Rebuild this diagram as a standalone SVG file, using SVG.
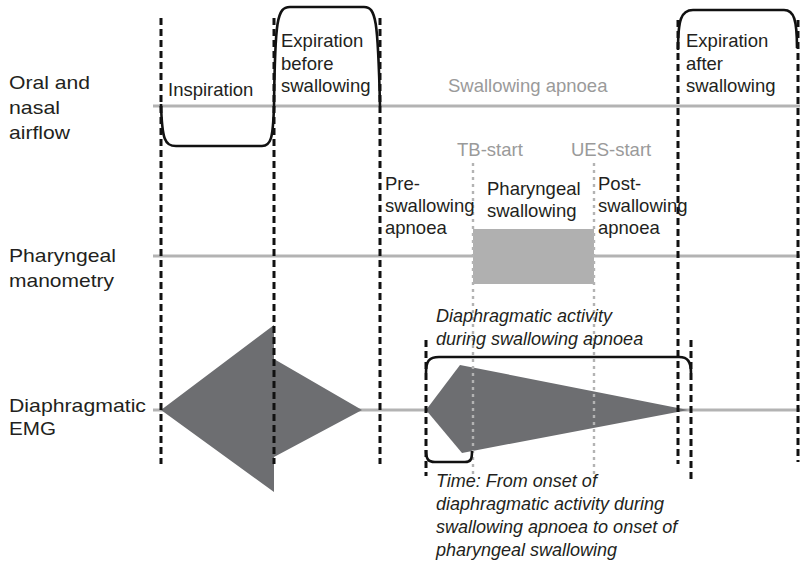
<svg xmlns="http://www.w3.org/2000/svg" width="800" height="563" viewBox="0 0 800 563">
  <style>
    .lbl { font-family: "Liberation Sans", Arial, Helvetica, sans-serif; font-size: 18.5px; fill: #231f20; }
    .row { font-family: "Liberation Sans", Arial, Helvetica, sans-serif; font-size: 19px; fill: #231f20; }
    .gry { font-family: "Liberation Sans", Arial, Helvetica, sans-serif; font-size: 18.5px; fill: #9a9a9a; }
    .ital { font-family: "Liberation Sans", Arial, Helvetica, sans-serif; font-size: 18px; font-style: italic; fill: #231f20; }
    .base { stroke: #b3b3b3; stroke-width: 3; fill: none; }
    .phase { stroke: #111; stroke-width: 3; stroke-dasharray: 7 4; fill: none; }
    .mark { stroke: #b3b3b3; stroke-width: 2.4; stroke-dasharray: 3 4; fill: none; }
    .trace { stroke: #111; stroke-width: 2.6; fill: none; stroke-linejoin: round; }
    .emg { fill: #6d6e71; }
  </style>

  <rect width="800" height="563" fill="#ffffff"/>

  <!-- baselines of the three recordings -->
  <g id="baselines">
    <line class="base" x1="153" y1="106" x2="800" y2="106"/>
    <line class="base" x1="153" y1="256" x2="800" y2="256"/>
    <line class="base" x1="153" y1="410" x2="800" y2="410"/>
  </g>

  <!-- pharyngeal swallow block -->
  <g id="pharyngeal-swallow">
    <rect x="473" y="229" width="121" height="55" fill="#b0b0b0"/>
  </g>

  <!-- diaphragmatic EMG bursts -->
  <g id="emg-breathing">
    <polygon class="emg" points="161,410 274,325 274,359 362,410 274,457 274,492"/>
  </g>
  <g id="emg-apnoea">
    <polygon class="emg" points="426,410 460,365 688,410 462,453"/>
  </g>

  <!-- phase boundaries and markers -->
  <g id="connectors">
    <line class="phase" x1="161" y1="18" x2="161" y2="464"/>
    <line class="phase" x1="274" y1="18" x2="274" y2="464"/>
    <line class="phase" x1="380" y1="18" x2="380" y2="464"/>
    <line class="phase" x1="678" y1="20" x2="678" y2="464"/>
    <line class="phase" x1="798" y1="20" x2="798" y2="462"/>
    <line class="phase" x1="426" y1="340" x2="426" y2="476"/>
    <line class="phase" x1="691" y1="340" x2="691" y2="482"/>
    <line class="mark" x1="473" y1="163" x2="473" y2="478"/>
    <line class="mark" x1="594" y1="163" x2="594" y2="478"/>

    <!-- oral and nasal airflow trace -->
    <path class="trace" d="M161,104 C162,140 165,146 176,146 L262,146 C271,146 273,138 274,106 C275,20 277,7 290,7 L364,7 C376,7 378,20 380,106"/>
    <path class="trace" d="M678,50 C678,20 681,10 693,10 L784,10 C794,10 797,20 797,48"/>

    <!-- brackets -->
    <path class="trace" d="M426,373 C426,361 429,357 439,357 L679,357 C688,357 691,362 691,373"/>
    <path class="trace" d="M426,450 C426,459 428,462 435,462 L465,462 C471,462 472,459 472,451"/>
  </g>

  <!-- row labels -->
  <g id="row-labels">
    <text class="row" x="9" y="89" textLength="81" lengthAdjust="spacingAndGlyphs">Oral and</text>
    <text class="row" x="9" y="114" textLength="51" lengthAdjust="spacingAndGlyphs">nasal</text>
    <text class="row" x="9" y="139" textLength="61" lengthAdjust="spacingAndGlyphs">airflow</text>
    <text class="row" x="9" y="262" textLength="107" lengthAdjust="spacingAndGlyphs">Pharyngeal</text>
    <text class="row" x="9" y="287" textLength="105" lengthAdjust="spacingAndGlyphs">manometry</text>
    <text class="row" x="9" y="412" textLength="137" lengthAdjust="spacingAndGlyphs">Diaphragmatic</text>
    <text class="row" x="9" y="435" textLength="47" lengthAdjust="spacingAndGlyphs">EMG</text>
  </g>

  <!-- phase labels -->
  <g id="phase-labels">
    <text class="lbl" x="168" y="96">Inspiration</text>
    <text class="lbl" x="281" y="47">Expiration</text>
    <text class="lbl" x="281" y="70">before</text>
    <text class="lbl" x="281" y="92">swallowing</text>
    <text class="gry" x="448" y="92">Swallowing apnoea</text>
    <text class="lbl" x="686" y="47">Expiration</text>
    <text class="lbl" x="686" y="70">after</text>
    <text class="lbl" x="686" y="92">swallowing</text>
    <text class="gry" x="457" y="156">TB-start</text>
    <text class="gry" x="571" y="156">UES-start</text>
    <text class="lbl" x="385" y="190">Pre-</text>
    <text class="lbl" x="385" y="212">swallowing</text>
    <text class="lbl" x="385" y="234">apnoea</text>
    <text class="lbl" x="487" y="195">Pharyngeal</text>
    <text class="lbl" x="487" y="217">swallowing</text>
    <text class="lbl" x="598" y="190">Post-</text>
    <text class="lbl" x="598" y="212">swallowing</text>
    <text class="lbl" x="598" y="234">apnoea</text>
  </g>

  <!-- annotations -->
  <g id="annotations">
    <text class="ital" x="436" y="322">Diaphragmatic activity</text>
    <text class="ital" x="436" y="345">during swallowing apnoea</text>
    <text class="ital" x="436" y="487">Time: From onset of</text>
    <text class="ital" x="436" y="510">diaphragmatic activity during</text>
    <text class="ital" x="436" y="533">swallowing apnoea to onset of</text>
    <text class="ital" x="436" y="556">pharyngeal swallowing</text>
  </g>
</svg>
